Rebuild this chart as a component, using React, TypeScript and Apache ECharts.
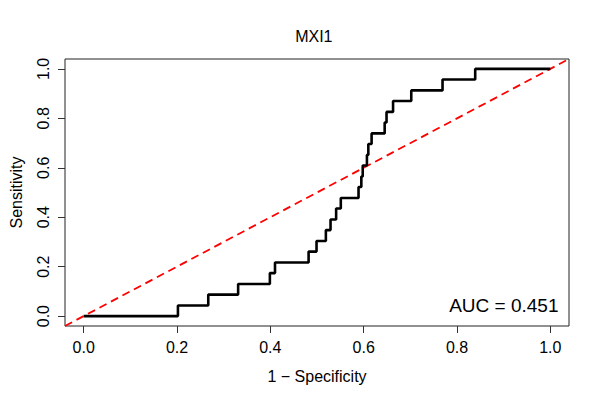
import React, { useEffect, useRef } from "react";
import * as echarts from "echarts";

// ROC curve step points (1 - specificity, sensitivity)
const fprPoints = [
  0, 0.202, 0.267, 0.331, 0.399, 0.41, 0.482, 0.499, 0.519, 0.529, 0.541, 0.551,
  0.589, 0.595, 0.598, 0.607, 0.61, 0.617, 0.645, 0.649, 0.663, 0.702, 0.769, 0.839, 1.0,
];
const tprPoints = [
  0, 0.043, 0.087, 0.13, 0.174, 0.217, 0.261, 0.304, 0.348, 0.391, 0.435, 0.478,
  0.522, 0.565, 0.609, 0.652, 0.696, 0.739, 0.783, 0.826, 0.87, 0.913, 0.957, 1.0, 1.0,
];
const tickValues = [0, 0.2, 0.4, 0.6, 0.8, 1.0];
const diagonal = [
  [-0.04, -0.04],
  [1.04, 1.04],
];
const titleText = "MXI1";
const aucText = "AUC = 0.451";
const xName = "1 \u2212 Specificity";
const yName = "Sensitivity";

const FONT = "'Liberation Sans', Arial, Helvetica, sans-serif";

export default function App() {
  const ref = useRef<HTMLDivElement>(null);

  useEffect(() => {
    if (!ref.current) return;
    const chart = echarts.init(ref.current, null, { renderer: "svg" });
    const rocData = fprPoints.map((x, i) => [x, tprPoints[i]]);

    chart.setOption({
      animation: false,
      backgroundColor: "#ffffff",
      grid: {
        left: 58,
        right: 31,
        top: 59,
        bottom: 74,
        show: true,
        borderColor: "#222",
        borderWidth: 1,
        backgroundColor: "transparent",
      },
      xAxis: {
        type: "value",
        min: -0.04,
        max: 1.04,
        axisLine: { show: false, onZero: false },
        splitLine: { show: false },
        axisTick: {
          show: true,
          length: 7,
          inside: false,
          customValues: tickValues,
          lineStyle: { color: "#333", width: 1 },
        },
        axisLabel: {
          customValues: tickValues,
          fontSize: 16,
          fontFamily: FONT,
          color: "#000",
          margin: 13,
          formatter: (v: number) => v.toFixed(1),
        },
        name: xName,
        nameLocation: "middle",
        nameGap: 42,
        nameTextStyle: { fontSize: 16, fontFamily: FONT, color: "#000" },
      },
      yAxis: {
        type: "value",
        min: -0.04,
        max: 1.04,
        axisLine: { show: false, onZero: false },
        splitLine: { show: false },
        axisTick: {
          show: true,
          length: 7,
          inside: false,
          customValues: tickValues,
          lineStyle: { color: "#333", width: 1 },
        },
        axisLabel: {
          customValues: tickValues,
          fontSize: 16,
          fontFamily: FONT,
          color: "#000",
          margin: 14,
          rotate: 90,
          formatter: (v: number) => v.toFixed(1),
        },
        name: yName,
        nameLocation: "middle",
        nameGap: 41,
        nameTextStyle: { fontSize: 16, fontFamily: FONT, color: "#000" },
      },
      series: [
        {
          type: "line",
          data: diagonal,
          showSymbol: false,
          symbol: "none",
          silent: true,
          lineStyle: { color: "#ff0000", width: 1.8, type: [8, 5] },
          z: 2,
        },
        {
          type: "line",
          data: rocData,
          step: "end",
          showSymbol: false,
          symbol: "none",
          silent: true,
          lineStyle: { color: "#000000", width: 2.6 },
          z: 3,
        },
      ],
      graphic: [
        {
          type: "text",
          x: 313.8,
          y: 36.3,
          style: {
            text: titleText,
            fontSize: 16,
            fontFamily: FONT,
            fill: "#000",
            align: "center",
            verticalAlign: "middle",
          },
        },
        {
          type: "text",
          x: 558.5,
          y: 305,
          style: {
            text: aucText,
            fontSize: 19,
            fontFamily: FONT,
            fill: "#000",
            align: "right",
            verticalAlign: "middle",
          },
        },
      ],
    });

    return () => {
      chart.dispose();
    };
  }, []);

  return (
    <div
      ref={ref}
      style={{ position: "fixed", left: 0, top: 0, width: 600, height: 400, background: "#fff" }}
    />
  );
}
